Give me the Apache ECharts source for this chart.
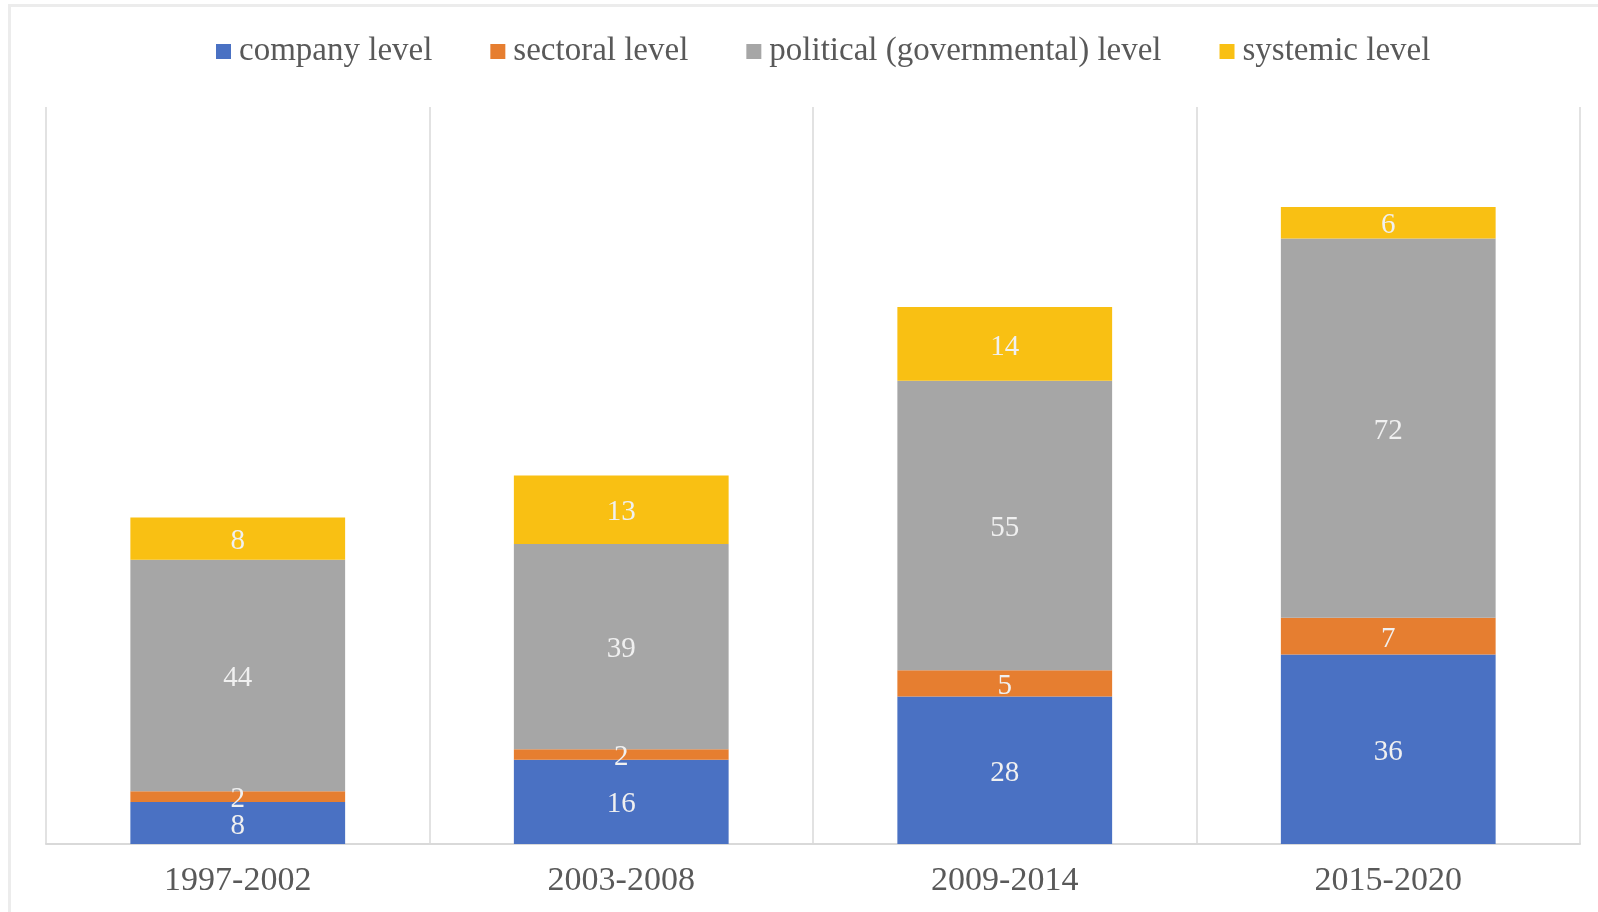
<!DOCTYPE html>
<html>
<head>
<meta charset="utf-8">
<script src="https://cdn.jsdelivr.net/npm/echarts@6/dist/echarts.min.js"></script>
<style>
html,body{margin:0;padding:0;background:#fff;overflow:hidden;}
#frame{position:absolute;left:8px;top:4px;width:1620px;height:940px;border:3px solid #ececec;box-sizing:border-box;}
#chart{position:absolute;left:0;top:0;width:1598px;height:912px;}
</style>
</head>
<body>
<div id="frame"></div>
<div id="chart"></div>
<script>
const categories = ['1997-2002', '2003-2008', '2009-2014', '2015-2020'];
const seriesNames = ['company level', 'sectoral level', 'political (governmental) level', 'systemic level'];
const companyLevel = [8, 16, 28, 36];
const sectoralLevel = [2, 2, 5, 7];
const politicalLevel = [44, 39, 55, 72];
const systemicLevel = [8, 13, 14, 6];
const colors = ['#4A71C3', '#E67E30', '#A6A6A6', '#F9C013'];

const chart = echarts.init(document.getElementById('chart'));
const font = '"Liberation Serif", "DejaVu Serif", serif';
const values = [companyLevel, sectoralLevel, politicalLevel, systemicLevel];

chart.setOption({
  animation: false,
  textStyle: { fontFamily: font },
  legend: {
    top: 30,
    left: 211,
    itemWidth: 15,
    itemHeight: 15,
    itemGap: 58,
    icon: 'rect',
    textStyle: { fontFamily: font, fontSize: 33, color: '#595959', padding: [0, 0, 0, 3] },
    data: seriesNames
  },
  grid: { left: 46, right: 18, top: 107, bottom: 68, containLabel: false },
  xAxis: {
    type: 'category',
    data: categories,
    axisTick: { show: false },
    axisLine: { lineStyle: { color: '#d9d9d9', width: 2 } },
    splitLine: { show: true, lineStyle: { color: '#e2e2e2', width: 2 } },
    axisLabel: { fontFamily: font, fontSize: 34, color: '#595959', margin: 20 }
  },
  yAxis: {
    type: 'value',
    min: 0,
    max: 140,
    show: false,
    splitLine: { show: false }
  },
  series: seriesNames.map((name, i) => ({
    name: name,
    type: 'bar',
    stack: 'total',
    barWidth: '56%',
    data: values[i],
    itemStyle: { color: colors[i] },
    label: {
      show: true,
      position: 'inside',
      offset: [0, 3],
      fontFamily: font,
      fontSize: 29,
      color: '#f0f0f0'
    }
  }))
});
</script>
</body>
</html>
